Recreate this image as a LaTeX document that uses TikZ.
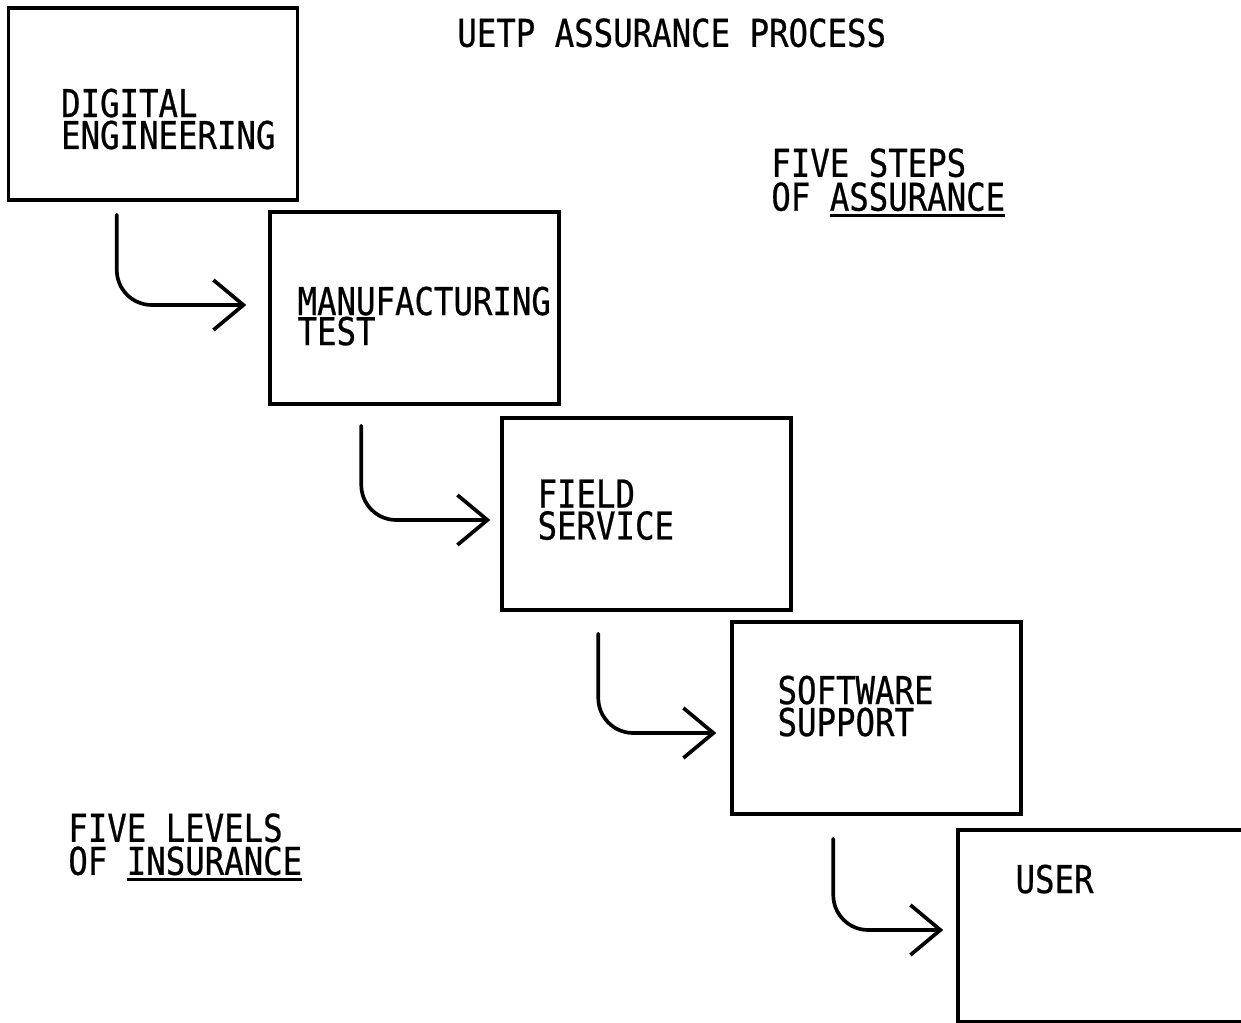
\documentclass[tikz,border=0pt]{standalone}
\usepackage{fontspec}
\usepackage{tikz}
\usetikzlibrary{arrows.meta, positioning}
\newfontfamily\plotfont[FakeStretch=0.845, FakeBold=0.6]{DejaVu Sans Mono}
\newcommand{\thickul}[1]{\setbox0=\hbox{#1}\rlap{\rule[-3.6pt]{\wd0}{1.9pt}}\box0}

\begin{document}
\begin{tikzpicture}[
  x=0.02cm, y=-0.02cm,
  stagebox/.style={rectangle, draw=black, line width=2pt,
                   minimum width=5.78cm, minimum height=3.84cm, inner sep=0pt},
  plottext/.style={inner sep=0pt, anchor=north west, align=left,
                   font=\plotfont\fontsize{21.8pt}{18.2pt}\selectfont},
  flow/.style={line width=2.1pt, rounded corners=0.7cm, line cap=round, line join=round,
               -{Straight Barb[length=0.6cm, width=1.0cm]}}
]
\useasboundingbox (0,0) rectangle (1241,1023);
\clip (0,0) rectangle (1241,1023);

% the five stages
\node[stagebox] (b1) at (153,104)    {};
\node[stagebox] (b2) at (414.5,308)  {};
\node[stagebox] (b3) at (646.5,514)  {};
\node[stagebox] (b4) at (876.5,718)  {};
\node[stagebox] (b5) at (1102.5,926) {};

\node[plottext, below right=1.64cm and 1.08cm of b1.north west] (t1) {DIGITAL\\ENGINEERING};
\node[plottext, below right=1.52cm and 0.58cm of b2.north west] (t2) {MANUFACTURING\\[-1.1pt]TEST};
\node[plottext, below right=1.26cm and 0.74cm of b3.north west] (t3) {FIELD\\SERVICE};
\node[plottext, below right=1.10cm and 0.94cm of b4.north west] (t4) {SOFTWARE\\SUPPORT};
\node[plottext, below right=0.72cm and 1.18cm of b5.north west] (t5) {USER};

% free labels
\node[plottext] (title) at (457,18) {UETP ASSURANCE PROCESS};
\node[plottext] (steps) at (771,148) {FIVE STEPS\\[1.1pt]OF \thickul{ASSURANCE}};
\node[plottext] (levels) at (68,813) {FIVE LEVELS\\[0.6pt]OF \thickul{INSURANCE}};

% arrows
\draw[flow] ([shift={(110,13)}]b1.south west) |- ([shift={(-22,-3)}]b2.west);
\draw[flow] ([shift={(93,20)}]b2.south west) |- ([shift={(-10,6)}]b3.west);
\draw[flow] ([shift={(98,22)}]b3.south west) |- ([shift={(-14,15)}]b4.west);
\draw[flow] ([shift={(103,23)}]b4.south west) |- ([shift={(-13,4)}]b5.west);
\end{tikzpicture}
\end{document}
